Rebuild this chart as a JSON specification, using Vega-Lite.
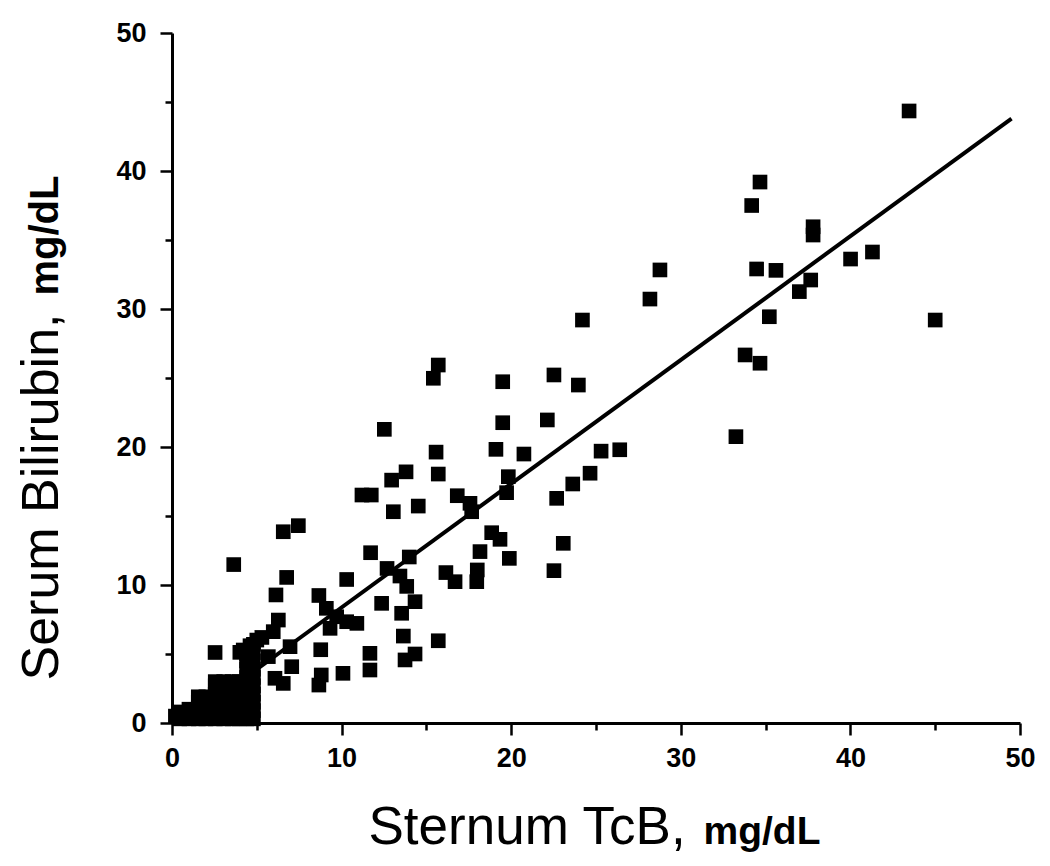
{
  "$schema": "https://vega.github.io/schema/vega-lite/v6.json",
  "width": 848,
  "height": 690,
  "autosize": {"type": "none"},
  "padding": {"left": 172, "top": 33, "right": 30, "bottom": 143},
  "background": "white",
  "config": {
    "view": {"stroke": null},
    "font": "Liberation Sans",
    "axis": {"grid": false}
  },
  "datasets": {
    "pts": [
      {"tcb": 43.46, "tsb": 44.35}, {"tcb": 34.67, "tsb": 39.2}, {"tcb": 34.18, "tsb": 37.5},
      {"tcb": 37.8, "tsb": 35.96}, {"tcb": 37.8, "tsb": 35.36}, {"tcb": 28.77, "tsb": 32.83},
      {"tcb": 28.18, "tsb": 30.72}, {"tcb": 34.47, "tsb": 32.9}, {"tcb": 35.61, "tsb": 32.8},
      {"tcb": 37.66, "tsb": 32.1}, {"tcb": 36.99, "tsb": 31.26}, {"tcb": 40.01, "tsb": 33.62},
      {"tcb": 41.3, "tsb": 34.13}, {"tcb": 35.22, "tsb": 29.44}, {"tcb": 45.0, "tsb": 29.2},
      {"tcb": 33.79, "tsb": 26.67}, {"tcb": 34.67, "tsb": 26.07}, {"tcb": 33.25, "tsb": 20.75},
      {"tcb": 26.4, "tsb": 19.8}, {"tcb": 25.3, "tsb": 19.7}, {"tcb": 24.2, "tsb": 29.2},
      {"tcb": 15.7, "tsb": 25.94}, {"tcb": 15.41, "tsb": 24.98}, {"tcb": 19.5, "tsb": 24.73},
      {"tcb": 22.52, "tsb": 25.22}, {"tcb": 23.96, "tsb": 24.49}, {"tcb": 19.5, "tsb": 21.76},
      {"tcb": 22.13, "tsb": 21.96}, {"tcb": 15.57, "tsb": 19.63}, {"tcb": 19.1, "tsb": 19.83},
      {"tcb": 20.75, "tsb": 19.49}, {"tcb": 13.8, "tsb": 18.2}, {"tcb": 15.7, "tsb": 18.04},
      {"tcb": 19.83, "tsb": 17.85}, {"tcb": 24.65, "tsb": 18.1}, {"tcb": 23.63, "tsb": 17.32},
      {"tcb": 19.73, "tsb": 16.69}, {"tcb": 16.82, "tsb": 16.47}, {"tcb": 17.57, "tsb": 15.92},
      {"tcb": 17.67, "tsb": 15.31}, {"tcb": 22.68, "tsb": 16.28}, {"tcb": 14.52, "tsb": 15.72},
      {"tcb": 18.85, "tsb": 13.79}, {"tcb": 19.34, "tsb": 13.31}, {"tcb": 23.07, "tsb": 13.02},
      {"tcb": 18.16, "tsb": 12.42}, {"tcb": 19.89, "tsb": 11.93}, {"tcb": 13.99, "tsb": 12.03},
      {"tcb": 22.52, "tsb": 11.04}, {"tcb": 16.15, "tsb": 10.9}, {"tcb": 16.69, "tsb": 10.24},
      {"tcb": 18.0, "tsb": 11.09}, {"tcb": 17.97, "tsb": 10.24}, {"tcb": 13.44, "tsb": 10.65},
      {"tcb": 13.84, "tsb": 9.9}, {"tcb": 12.52, "tsb": 21.28}, {"tcb": 12.95, "tsb": 17.6},
      {"tcb": 11.2, "tsb": 16.52}, {"tcb": 11.75, "tsb": 16.52}, {"tcb": 13.05, "tsb": 15.31},
      {"tcb": 6.56, "tsb": 13.86}, {"tcb": 7.45, "tsb": 14.3}, {"tcb": 3.64, "tsb": 11.48},
      {"tcb": 11.71, "tsb": 12.34}, {"tcb": 6.76, "tsb": 10.55}, {"tcb": 10.3, "tsb": 10.4},
      {"tcb": 12.68, "tsb": 11.2}, {"tcb": 6.13, "tsb": 9.28}, {"tcb": 8.66, "tsb": 9.24},
      {"tcb": 9.1, "tsb": 8.31}, {"tcb": 6.27, "tsb": 7.46}, {"tcb": 5.97, "tsb": 6.62},
      {"tcb": 9.32, "tsb": 6.86}, {"tcb": 10.3, "tsb": 7.34}, {"tcb": 10.9, "tsb": 7.22},
      {"tcb": 5.0, "tsb": 6.01}, {"tcb": 4.2, "tsb": 5.29}, {"tcb": 2.54, "tsb": 5.11},
      {"tcb": 8.77, "tsb": 5.31}, {"tcb": 6.96, "tsb": 5.53}, {"tcb": 7.06, "tsb": 4.08},
      {"tcb": 6.56, "tsb": 2.87}, {"tcb": 6.07, "tsb": 3.24}, {"tcb": 8.8, "tsb": 3.48},
      {"tcb": 8.66, "tsb": 2.75}, {"tcb": 10.08, "tsb": 3.6}, {"tcb": 5.68, "tsb": 4.81},
      {"tcb": 9.71, "tsb": 7.7}, {"tcb": 12.36, "tsb": 8.67}, {"tcb": 14.33, "tsb": 8.79},
      {"tcb": 13.54, "tsb": 7.95}, {"tcb": 13.64, "tsb": 6.3}, {"tcb": 15.7, "tsb": 5.96},
      {"tcb": 11.67, "tsb": 5.05}, {"tcb": 14.33, "tsb": 5.0}, {"tcb": 13.74, "tsb": 4.57},
      {"tcb": 11.67, "tsb": 3.84}, {"tcb": 4.0, "tsb": 5.12},
      {"tcb": 0.2, "tsb": 0.5}, {"tcb": 0.45, "tsb": 0.3}, {"tcb": 0.45, "tsb": 0.8},
      {"tcb": 1.0, "tsb": 0.3}, {"tcb": 1.0, "tsb": 1.0},
      {"tcb": 1.55, "tsb": 0.3}, {"tcb": 1.55, "tsb": 0.9}, {"tcb": 1.55, "tsb": 1.5}, {"tcb": 1.55, "tsb": 1.9},
      {"tcb": 2.0, "tsb": 0.3}, {"tcb": 2.0, "tsb": 0.9}, {"tcb": 2.0, "tsb": 1.5}, {"tcb": 2.0, "tsb": 1.9},
      {"tcb": 2.55, "tsb": 0.3}, {"tcb": 2.55, "tsb": 0.9}, {"tcb": 2.55, "tsb": 1.5}, {"tcb": 2.55, "tsb": 2.1}, {"tcb": 2.55, "tsb": 2.7}, {"tcb": 2.55, "tsb": 3.0},
      {"tcb": 3.05, "tsb": 0.3}, {"tcb": 3.05, "tsb": 0.9}, {"tcb": 3.05, "tsb": 1.5}, {"tcb": 3.05, "tsb": 2.1}, {"tcb": 3.05, "tsb": 2.7}, {"tcb": 3.05, "tsb": 3.0},
      {"tcb": 3.55, "tsb": 0.3}, {"tcb": 3.55, "tsb": 0.9}, {"tcb": 3.55, "tsb": 1.5}, {"tcb": 3.55, "tsb": 2.1}, {"tcb": 3.55, "tsb": 2.7}, {"tcb": 3.55, "tsb": 3.0},
      {"tcb": 3.95, "tsb": 0.3}, {"tcb": 3.95, "tsb": 0.9}, {"tcb": 3.95, "tsb": 1.5}, {"tcb": 3.95, "tsb": 2.1}, {"tcb": 3.95, "tsb": 2.7}, {"tcb": 3.95, "tsb": 3.0},
      {"tcb": 4.4, "tsb": 0.3}, {"tcb": 4.4, "tsb": 0.9}, {"tcb": 4.4, "tsb": 1.5}, {"tcb": 4.4, "tsb": 2.1}, {"tcb": 4.4, "tsb": 2.7}, {"tcb": 4.4, "tsb": 3.3}, {"tcb": 4.4, "tsb": 3.9}, {"tcb": 4.4, "tsb": 4.5}, {"tcb": 4.4, "tsb": 5.0},
      {"tcb": 4.8, "tsb": 0.3}, {"tcb": 4.8, "tsb": 0.9}, {"tcb": 4.8, "tsb": 1.5}, {"tcb": 4.8, "tsb": 2.1}, {"tcb": 4.8, "tsb": 2.7}, {"tcb": 4.8, "tsb": 3.3}, {"tcb": 4.8, "tsb": 3.9}, {"tcb": 4.8, "tsb": 4.5}, {"tcb": 4.8, "tsb": 5.1}, {"tcb": 4.8, "tsb": 5.7},
      {"tcb": 5.3, "tsb": 6.2}, {"tcb": 4.6, "tsb": 5.6}
    ],
    "fit": [
      {"tcb": 1.0, "tsb": 0.3},
      {"tcb": 49.5, "tsb": 43.8}
    ]
  },
  "layer": [
    {
      "data": {"name": "pts"},
      "mark": {"type": "point", "shape": "square", "filled": true, "color": "#000000", "size": 215, "opacity": 1},
      "encoding": {
        "x": {
          "field": "tcb", "type": "quantitative",
          "scale": {"domain": [0, 50], "nice": false, "zero": false},
          "axis": {
            "orient": "bottom",
            "values": [0, 10, 20, 30, 40, 50],
            "format": "d",
            "domainColor": "#000000", "domainWidth": 3,
            "tickColor": "#000000", "tickWidth": 2.5, "tickSize": 12,
            "labelFont": "Liberation Sans", "labelFontSize": 27, "labelFontWeight": "bold", "labelColor": "#000000",
            "labelPadding": 10, "labelFlush": false,
            "title": "Sternum TcB,",
            "titleFont": "Liberation Sans", "titleFontSize": 53, "titleFontWeight": "normal", "titleColor": "#000000",
            "titleAlign": "left", "titleBaseline": "alphabetic", "titleAnchor": null,
            "titleX": 196, "titleY": 120
          }
        },
        "y": {
          "field": "tsb", "type": "quantitative",
          "scale": {"domain": [0, 50], "nice": false, "zero": false},
          "axis": {
            "orient": "left",
            "values": [0, 10, 20, 30, 40, 50],
            "format": "d",
            "domainColor": "#000000", "domainWidth": 3,
            "tickColor": "#000000", "tickWidth": 2.5, "tickSize": 12,
            "labelFont": "Liberation Sans", "labelFontSize": 27, "labelFontWeight": "bold", "labelColor": "#000000",
            "labelPadding": 14, "labelFlush": false,
            "title": "Serum Bilirubin,",
            "titleFont": "Liberation Sans", "titleFontSize": 52, "titleFontWeight": "normal", "titleColor": "#000000",
            "titleAngle": -90, "titleAlign": "left", "titleBaseline": "alphabetic", "titleAnchor": null,
            "titleX": -115, "titleY": 647
          }
        }
      }
    },
    {
      "data": {"name": "fit"},
      "mark": {"type": "line", "color": "#000000", "strokeWidth": 4, "clip": true},
      "encoding": {
        "x": {
          "field": "tcb", "type": "quantitative",
          "scale": {"domain": [0, 50], "nice": false, "zero": false},
          "axis": {
            "orient": "bottom",
            "values": [5, 15, 25, 35, 45],
            "labels": false, "domain": false,
            "tickColor": "#000000", "tickWidth": 2.5, "tickSize": 7,
            "title": "mg/dL",
            "titleFont": "Liberation Sans", "titleFontSize": 39, "titleFontWeight": "bold", "titleColor": "#000000",
            "titleAlign": "left", "titleBaseline": "alphabetic", "titleAnchor": null,
            "titleX": 531, "titleY": 120
          }
        },
        "y": {
          "field": "tsb", "type": "quantitative",
          "scale": {"domain": [0, 50], "nice": false, "zero": false},
          "axis": {
            "orient": "left",
            "values": [5, 15, 25, 35, 45],
            "labels": false, "domain": false,
            "tickColor": "#000000", "tickWidth": 2.5, "tickSize": 7,
            "title": "mg/dL",
            "titleFont": "Liberation Sans", "titleFontSize": 40, "titleFontWeight": "bold", "titleColor": "#000000",
            "titleAngle": -90, "titleAlign": "left", "titleBaseline": "alphabetic", "titleAnchor": null,
            "titleX": -115, "titleY": 262
          }
        }
      }
    }
  ],
  "resolve": {"axis": {"x": "independent", "y": "independent"}}
}
